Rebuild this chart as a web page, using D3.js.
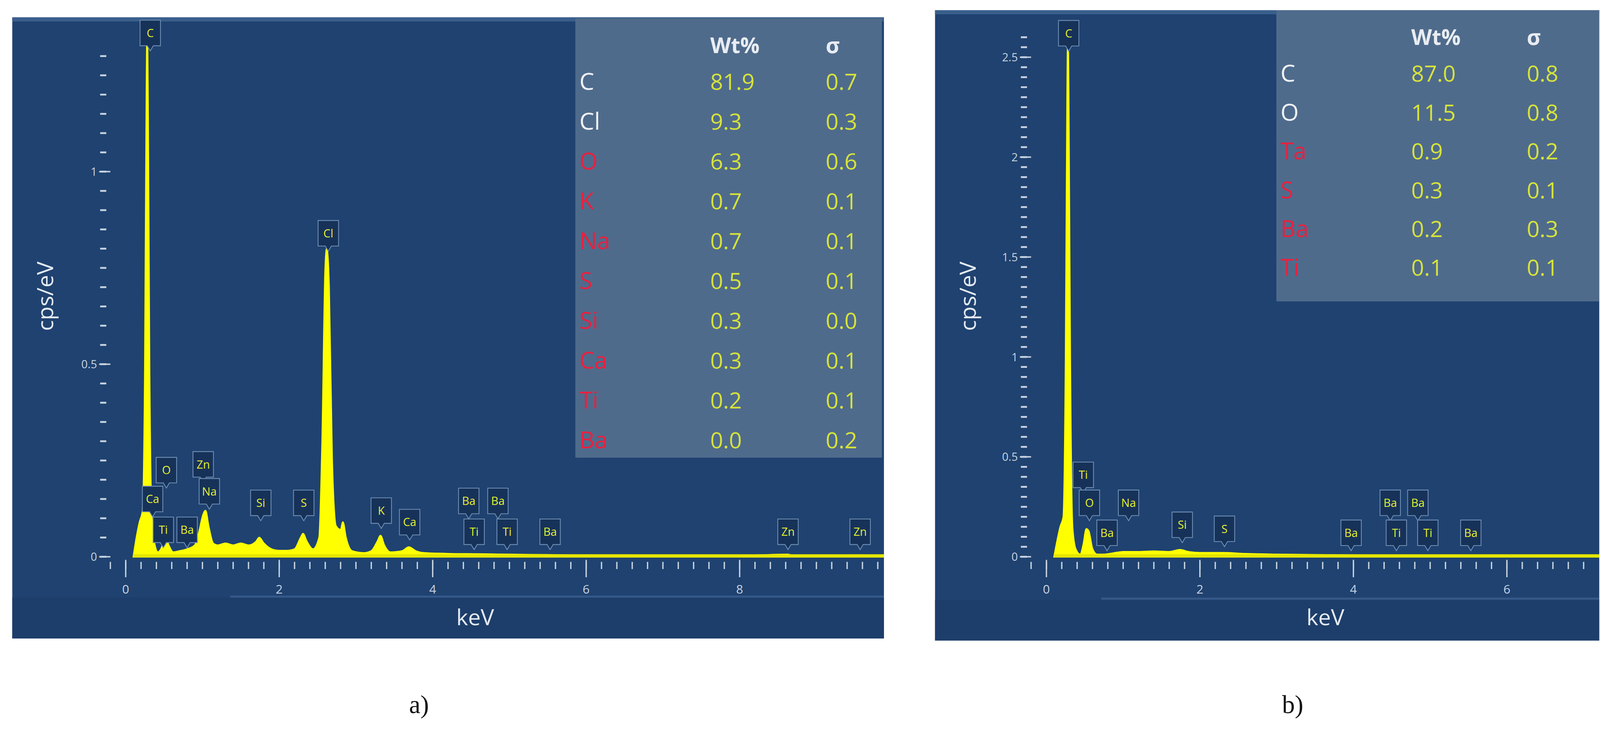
<!DOCTYPE html>
<html><head><meta charset="utf-8">
<script src="https://cdn.jsdelivr.net/npm/d3@7"></script>
<style>body{margin:0;background:#fff}svg{display:block}</style>
</head><body>
<script>
// ---------- DATA ----------
const specA_keV = [0.10,0.14,0.18,0.22,0.25,0.27,0.28,0.29,0.31,0.34,0.38,0.42,0.46,0.52,0.56,0.62,0.7,0.8,0.9,0.95,1.01,1.04,1.08,1.14,1.2,1.3,1.4,1.5,1.6,1.7,1.74,1.8,1.9,2.0,2.1,2.2,2.28,2.31,2.36,2.44,2.52,2.56,2.6,2.62,2.65,2.69,2.74,2.8,2.83,2.87,2.95,3.1,3.2,3.28,3.32,3.37,3.45,3.6,3.69,3.78,3.9,4.2,4.6,5.0,5.5,6.0,6.5,7.0,8.0,8.63,8.7,9.57,9.9];
const specA_cps = [0,0.05,0.09,0.12,0.5,1.2,1.37,1.2,0.5,0.1,0.03,0.012,0.02,0.05,0.03,0.012,0.015,0.02,0.03,0.06,0.11,0.12,0.08,0.035,0.03,0.035,0.03,0.035,0.03,0.04,0.05,0.035,0.02,0.016,0.016,0.02,0.05,0.06,0.04,0.02,0.05,0.3,0.75,0.8,0.7,0.25,0.08,0.07,0.09,0.05,0.015,0.01,0.015,0.04,0.055,0.03,0.012,0.015,0.025,0.015,0.01,0.008,0.007,0.006,0.005,0.004,0.004,0.003,0.003,0.006,0.003,0.004,0.002];
const specB_keV = [0.10,0.14,0.18,0.22,0.25,0.27,0.28,0.29,0.31,0.34,0.38,0.44,0.48,0.52,0.55,0.6,0.66,0.75,0.9,1.0,1.2,1.4,1.6,1.74,1.85,2.0,2.3,2.6,3.0,3.5,4.0,5.0,6.0,7.2];
const specB_cps = [0,0.08,0.15,0.2,1.0,2.3,2.63,2.3,1.0,0.15,0.04,0.012,0.06,0.14,0.13,0.04,0.012,0.012,0.02,0.025,0.025,0.028,0.025,0.035,0.025,0.02,0.02,0.015,0.012,0.01,0.008,0.006,0.004,0.003];

const labelsA_name = ["C","Cl","O","Zn","Ca","Na","Ti","Ba","Si","S","K","Ca","Ba","Ba","Ti","Ti","Ba","Zn","Zn"];
const labelsA_keV  = [0.32,2.64,0.53,1.01,0.35,1.09,0.49,0.80,1.76,2.32,3.33,3.70,4.47,4.85,4.54,4.97,5.53,8.63,9.57];
const labelsA_cps  = [1.36,0.84,0.225,0.24,0.15,0.17,0.07,0.07,0.14,0.14,0.12,0.09,0.145,0.145,0.065,0.065,0.065,0.065,0.065];
const labelsB_name = ["C","Ti","O","Na","Ba","Si","S","Ba","Ba","Ba","Ti","Ti","Ba"];
const labelsB_keV  = [0.29,0.48,0.56,1.07,0.79,1.77,2.32,3.97,4.48,4.84,4.56,4.97,5.53];
const labelsB_cps  = [2.62,0.41,0.27,0.27,0.12,0.16,0.14,0.12,0.27,0.27,0.12,0.12,0.12];

const tableA_el  = ["C","Cl","O","K","Na","S","Si","Ca","Ti","Ba"];
const tableA_wt  = ["81.9","9.3","6.3","0.7","0.7","0.5","0.3","0.3","0.2","0.0"];
const tableA_sig = ["0.7","0.3","0.6","0.1","0.1","0.1","0.0","0.1","0.1","0.2"];
const tableA_red = [false,false,true,true,true,true,true,true,true,true];
const tableB_el  = ["C","O","Ta","S","Ba","Ti"];
const tableB_wt  = ["87.0","11.5","0.9","0.3","0.2","0.1"];
const tableB_sig = ["0.8","0.8","0.2","0.1","0.3","0.1"];
const tableB_red = [false,false,true,true,true,true];

const yTicksA = [0,0.5,1];
const yTicksB = [0,0.5,1,1.5,2,2.5];
const xTicksA = [0,2,4,6,8];
const xTicksB = [0,2,4,6];

// ---------- DRAW ----------
const svg = d3.select("body").append("svg")
  .attr("width",4102).attr("height",1877).attr("viewBox","0 0 1568 717.5");
svg.append("rect").attr("width",1568).attr("height",717.5).attr("fill","#fff");

function panel(o){
  const g = svg.append("g");
  const id = "clip"+o.id;
  g.append("clipPath").attr("id",id).append("rect")
    .attr("x",o.fx).attr("y",o.fy).attr("width",o.fw).attr("height",o.fh);
  g.append("rect").attr("x",o.fx).attr("y",o.fy).attr("width",o.fw).attr("height",o.fh).attr("fill","#1f4270");
  g.append("rect").attr("x",o.fx).attr("y",o.fy).attr("width",o.fw).attr("height",4).attr("fill","#3a5f8c");
  g.append("rect").attr("x",o.fx).attr("y",o.fy+o.fh-40).attr("width",o.fw).attr("height",40).attr("fill","#1d3e6a");
  g.append("rect").attr("x",o.fx+o.fw*0.25).attr("y",o.fy+o.fh-42).attr("width",o.fw*0.75).attr("height",2).attr("fill","#35598a");

  const x = d3.scaleLinear().domain([0,o.xmax]).range([o.x0, o.x0 + o.xmax*75.1]);
  const y = d3.scaleLinear().domain([0,o.ymax]).range([545, 545 - o.ymax*o.ypu]);
  const cg = g.append("g").attr("clip-path",`url(#${id})`);

  const minor = d3.range(0, o.ymaxTick+1e-9, 0.05);
  cg.selectAll(".ym").data(minor).join("line")
    .attr("x1",o.yaxX-3).attr("x2",o.yaxX+3).attr("y1",d=>y(d)).attr("y2",d=>y(d))
    .attr("stroke","#c8d3e0").attr("stroke-width",1.8);
  cg.selectAll(".yM").data(o.yTicks).join("line")
    .attr("x1",o.yaxX-4).attr("x2",o.yaxX+7).attr("y1",d=>y(d)).attr("y2",d=>y(d))
    .attr("stroke","#c8d3e0").attr("stroke-width",1.4);
  cg.selectAll(".yl").data(o.yTicks).join("text")
    .attr("x",o.yaxX-6).attr("y",d=>y(d)+4).attr("text-anchor","end")
    .attr("font-family","Open Sans, sans-serif").attr("font-size",11).attr("fill","#c8d3e0").text(d=>d);

  const xm = d3.range(-0.2, o.xmax, 0.2);
  cg.selectAll(".xm").data(xm).join("line")
    .attr("x1",d=>x(d)).attr("x2",d=>x(d)).attr("y1",550).attr("y2",557)
    .attr("stroke","#c8d3e0").attr("stroke-width",1.3);
  cg.selectAll(".xM").data(o.xTicks).join("line")
    .attr("x1",d=>x(d)).attr("x2",d=>x(d)).attr("y1",548).attr("y2",565)
    .attr("stroke","#c8d3e0").attr("stroke-width",1.3);
  cg.selectAll(".xl").data(o.xTicks).join("text")
    .attr("x",d=>x(d)).attr("y",581).attr("text-anchor","middle")
    .attr("font-family","Open Sans, sans-serif").attr("font-size",12).attr("fill","#c8d3e0").text(d=>d);

  const pts = o.kev.map((k,i)=>[k,o.cps[i]]);
  pts.push([o.xmax+0.5,0.002]);
  const area = d3.area().x(d=>x(d[0])).y0(y(0)).y1(d=>y(d[1])).curve(d3.curveMonotoneX);
  cg.append("path").datum(pts).attr("d",area).attr("fill","#ffff00").attr("stroke","#ffff00").attr("stroke-width",1.5);
  cg.append("line").attr("x1",x(0.1)).attr("x2",o.fx+o.fw).attr("y1",544).attr("y2",544).attr("stroke","#e6e600").attr("stroke-width",3);

  o.lname.forEach((n,i)=>{
    const cx = x(o.lkev[i]), cy = y(o.lcps[i]);
    const w = 20, h = 25;
    const lg = cg.append("g");
    lg.append("path").attr("d",`M${cx-w/2},${cy-h/2} h${w} v${h} h-${w/2-3} l-3,5 l-3,-5 h-${w/2-3} Z`)
      .attr("fill","#173259").attr("stroke","#6f8fb5").attr("stroke-width",0.8);
    lg.append("text").attr("x",cx).attr("y",cy+4).attr("text-anchor","middle")
      .attr("font-family","Open Sans, sans-serif").attr("font-size",11).attr("fill","#e6f030").text(n);
  });

  g.append("rect").attr("x",o.tx).attr("y",o.ty).attr("width",o.tw).attr("height",o.th).attr("fill","#4f6b8c");
  const tf = "Open Sans, sans-serif";
  g.append("text").attr("x",o.tx+132).attr("y",o.ty+34).attr("font-family",tf).attr("font-weight","bold")
    .attr("font-size",21).attr("fill","#e8ecf2").text("Wt%");
  g.append("text").attr("x",o.tx+245).attr("y",o.ty+34).attr("font-family",tf).attr("font-weight","bold")
    .attr("font-size",21).attr("fill","#e8ecf2").text("σ");
  o.tel.forEach((e,i)=>{
    const yy = o.ty + 70 + i*o.rowH;
    g.append("text").attr("x",o.tx+4).attr("y",yy).attr("font-family",tf).attr("font-size",23)
      .attr("fill",o.tred[i]?"#e8213f":"#eef1f5").text(e);
    g.append("text").attr("x",o.tx+132).attr("y",yy).attr("font-family",tf).attr("font-size",22)
      .attr("fill","#d6e33b").text(o.twt[i]);
    g.append("text").attr("x",o.tx+245).attr("y",yy).attr("font-family",tf).attr("font-size",22)
      .attr("fill","#d6e33b").text(o.tsig[i]);
  });

  g.append("text").attr("x",o.x0+o.keVoff).attr("y",612).attr("text-anchor","middle")
    .attr("font-family",tf).attr("font-size",22).attr("fill","#e4eaf2").text("keV");
  g.append("text").attr("transform",`translate(${o.fx+40},${290}) rotate(-90)`).attr("text-anchor","middle")
    .attr("font-family",tf).attr("font-size",22).attr("fill","#e4eaf2").text("cps/eV");
  svg.append("text").attr("x",o.capX).attr("y",698).attr("text-anchor","middle")
    .attr("font-family","Liberation Serif, serif").attr("font-size",25).attr("fill","#111").text(o.cap);
}

panel({id:"a",fx:12,fy:17,fw:853,fh:608,x0:123,xmax:9.9,ymax:1.5,ymaxTick:1.34,ypu:377,yaxX:101,
  yTicks:yTicksA,xTicks:xTicksA,kev:specA_keV,cps:specA_cps,
  lname:labelsA_name,lkev:labelsA_keV,lcps:labelsA_cps,
  tx:563,ty:18,tw:300,th:430,rowH:39,tel:tableA_el,twt:tableA_wt,tsig:tableA_sig,tred:tableA_red,
  keVoff:342,cap:"a)",capX:410});
panel({id:"b",fx:915,fy:10,fw:650,fh:617,x0:1024,xmax:7.2,ymax:2.8,ymaxTick:2.62,ypu:195.6,yaxX:1002,
  yTicks:yTicksB,xTicks:xTicksB,kev:specB_keV,cps:specB_cps,
  lname:labelsB_name,lkev:labelsB_keV,lcps:labelsB_cps,
  tx:1249,ty:10,tw:316,th:285,rowH:38,tel:tableB_el,twt:tableB_wt,tsig:tableB_sig,tred:tableB_red,
  keVoff:273,cap:"b)",capX:1265});
</script>
</body></html>
